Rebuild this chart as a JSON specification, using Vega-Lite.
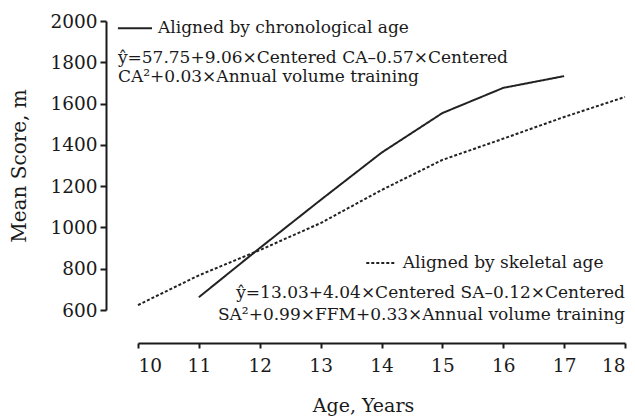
{
  "$schema": "https://vega.github.io/schema/vega-lite/v6.json",
  "width": 487,
  "height": 289,
  "autosize": {"type": "none"},
  "padding": {"left": 138, "top": 21, "right": 10, "bottom": 107},
  "background": "white",
  "config": {
    "view": {"stroke": null},
    "font": "DejaVu Serif",
    "axis": {"labelFont": "DejaVu Serif", "titleFont": "DejaVu Serif", "labelColor": "#1a1a1a", "titleColor": "#1a1a1a", "domainColor": "#1a1a1a", "tickColor": "#1a1a1a", "grid": false, "titleFontWeight": "normal"}
  },
  "datasets": {
    "curves": [
      {"age": 11, "score": 662, "series": "Aligned by chronological age"},
      {"age": 12, "score": 900, "series": "Aligned by chronological age"},
      {"age": 13, "score": 1133, "series": "Aligned by chronological age"},
      {"age": 14, "score": 1362, "series": "Aligned by chronological age"},
      {"age": 15, "score": 1554, "series": "Aligned by chronological age"},
      {"age": 16, "score": 1676, "series": "Aligned by chronological age"},
      {"age": 17, "score": 1733, "series": "Aligned by chronological age"},
      {"age": 10, "score": 624, "series": "Aligned by skeletal age"},
      {"age": 11, "score": 768, "series": "Aligned by skeletal age"},
      {"age": 12, "score": 890, "series": "Aligned by skeletal age"},
      {"age": 13, "score": 1021, "series": "Aligned by skeletal age"},
      {"age": 14, "score": 1181, "series": "Aligned by skeletal age"},
      {"age": 15, "score": 1327, "series": "Aligned by skeletal age"},
      {"age": 16, "score": 1430, "series": "Aligned by skeletal age"},
      {"age": 17, "score": 1535, "series": "Aligned by skeletal age"},
      {"age": 18, "score": 1632, "series": "Aligned by skeletal age"}
    ],
    "keys": [
      {"x": 9.67, "x2": 10.23, "y": 1965, "series": "Aligned by chronological age"},
      {"x": 13.75, "x2": 14.22, "y": 828, "series": "Aligned by skeletal age"}
    ],
    "leftText": [
      {"x": 10.33, "y": 1965, "text": "Aligned by chronological age"},
      {"x": 9.67, "y": 1821, "text": "ŷ=57.75+9.06×Centered CA–0.57×Centered"},
      {"x": 9.67, "y": 1729, "text": "CA²+0.03×Annual volume training"},
      {"x": 14.35, "y": 828, "text": "Aligned by skeletal age"}
    ],
    "rightText": [
      {"x": 18, "y": 682, "text": "ŷ=13.03+4.04×Centered SA–0.12×Centered"},
      {"x": 18, "y": 576, "text": "SA²+0.99×FFM+0.33×Annual volume training"}
    ]
  },
  "layer": [
    {
      "data": {"name": "curves"},
      "mark": {"type": "line", "strokeWidth": 2, "color": "#222"},
      "encoding": {
        "x": {"field": "age", "type": "quantitative", "scale": {"domain": [10, 18]},
          "axis": {"values": [10, 11, 12, 13, 14, 15, 16, 17, 18], "format": "d", "offset": 33, "domainWidth": 2, "tickWidth": 2, "tickSize": 5, "labelFontSize": 18.5, "labelPadding": 8, "title": "Age, Years", "titleFontSize": 19, "titleX": 225, "titlePadding": 22}},
        "y": {"field": "score", "type": "quantitative", "scale": {"domain": [600, 2000]},
          "axis": {"values": [600, 800, 1000, 1200, 1400, 1600, 1800, 2000], "format": "d", "offset": 32, "domainWidth": 2, "tickWidth": 2, "tickSize": 6, "labelFontSize": 18.5, "labelPadding": 3, "title": "Mean Score, m", "titleFontSize": 20, "titlePadding": 20}},
        "strokeDash": {"field": "series", "type": "nominal", "scale": {"range": [[1, 0], [3, 2]]}, "legend": null}
      }
    },
    {
      "data": {"name": "keys"},
      "mark": {"type": "rule", "strokeWidth": 2, "color": "#222"},
      "encoding": {
        "x": {"field": "x", "type": "quantitative"},
        "x2": {"field": "x2"},
        "y": {"field": "y", "type": "quantitative"},
        "strokeDash": {"field": "series", "type": "nominal", "legend": null}
      }
    },
    {
      "data": {"name": "leftText"},
      "mark": {"type": "text", "align": "left", "baseline": "middle", "fontSize": 17, "color": "#1a1a1a", "font": "DejaVu Serif"},
      "encoding": {
        "x": {"field": "x", "type": "quantitative"},
        "y": {"field": "y", "type": "quantitative"},
        "text": {"field": "text"}
      }
    },
    {
      "data": {"name": "rightText"},
      "mark": {"type": "text", "align": "right", "baseline": "middle", "fontSize": 17, "color": "#1a1a1a", "font": "DejaVu Serif"},
      "encoding": {
        "x": {"field": "x", "type": "quantitative"},
        "y": {"field": "y", "type": "quantitative"},
        "text": {"field": "text"}
      }
    }
  ]
}
